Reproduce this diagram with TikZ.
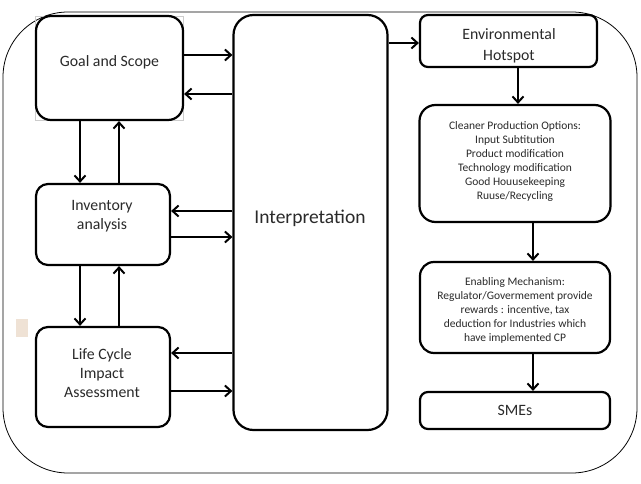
\documentclass[tikz,border=0pt]{standalone}
\usepackage{fontspec}
\setmainfont{Carlito}
\usetikzlibrary{arrows.meta}
\definecolor{txt}{HTML}{2A2A2A}
\definecolor{beige}{HTML}{EFE2D5}
\begin{document}
\begin{tikzpicture}[x=1pt,y=-1pt,
  box/.style={draw=black,line width=2.2pt,rounded corners=12pt,minimum width=#1,inner sep=0pt},
  lbl/.style={align=center,text=txt,inner sep=0pt},
  big/.style={font=\fontsize{15.8}{19}\selectfont},
  small/.style={font=\fontsize{11.5}{14}\selectfont},
  arr/.style={line width=2pt,-{Straight Barb[length=6pt,width=11pt,line width=2pt]}}]
\useasboundingbox (0,0) rectangle (641,484);
\fill[white] (0,0) rectangle (641,484);
% outer frame
\draw[line width=0.8pt,rounded corners=65pt] (3,12) rectangle (637,473);
% beige mark
\fill[beige] (16,319) rectangle (28,337);
% grey picture frame around goal box
\draw[line width=0.4pt,draw=gray!40] (35,16) rectangle (183,120);
% boxes
\node[box=147pt,minimum height=104pt,rounded corners=15pt] (goal) at (109.5,68) {};
\node[box=134pt,minimum height=81pt] (inv) at (103,224.5) {};
\node[box=134pt,minimum height=100pt] (lcia) at (103,377) {};
\node[box=154pt,minimum height=415pt,rounded corners=20pt] (interp) at (310.5,222.5) {};
\node[box=177pt,minimum height=52pt,rounded corners=8pt] (env) at (508.5,41) {};
\node[box=191pt,minimum height=117pt,rounded corners=16pt] (cpo) at (515,163.5) {};
\node[box=190pt,minimum height=91pt,rounded corners=14pt] (em) at (515,307.5) {};
\node[box=190pt,minimum height=37pt,rounded corners=8pt] (smes) at (515,410.5) {};
% texts
\node[lbl,big] (goalt) at (109.5,62) {Goal and Scope};
\node[lbl,big] (invt) at (102,216.5) {Inventory\\analysis};
\node[lbl,big] (lciat) at (102,373.5) {Life Cycle\\Impact\\Assessment};
\node[lbl,font=\fontsize{19.5}{23}\selectfont] (interpt) at (310,218) {Interpretation};
\begin{scope}
\clip (env.north west) rectangle ([yshift=1pt]env.south east);
\node[lbl,font=\fontsize{15.8}{21}\selectfont] (envt) at (509,46) {Environmental\\Hotspot};
\end{scope}
\node[lbl,small] (cpot) at (515,161.5) {Cleaner Production Options:\\Input Subtitution\\Product modification\\Technology modification\\Good Houusekeeping\\Ruuse/Recycling};
\node[lbl,small] (emt) at (515,310) {Enabling Mechanism:\\Regulator/Govermement provide\\rewards : incentive, tax\\deduction for Industries which\\have implemented CP};
\node[lbl,big] (smest) at (515,410) {SMEs};
% horizontal arrows
\draw[arr] (goal.east |- 0,55) -- (interp.west |- 0,55);
\draw[arr] (interp.west |- 0,94) -- (goal.east |- 0,94);
\draw[arr] (interp.west |- 0,211) -- (inv.east |- 0,211);
\draw[arr] (inv.east |- 0,237) -- (interp.west |- 0,237);
\draw[arr] (interp.west |- 0,353) -- (lcia.east |- 0,353);
\draw[arr] (lcia.east |- 0,391) -- (interp.west |- 0,391);
\draw[arr] (interp.east |- 0,43) -- (env.west |- 0,43);
% vertical arrows left
\draw[arr] (goal.south -| 80,0) -- (inv.north -| 80,0);
\draw[arr] (inv.north -| 119,0) -- (goal.south -| 119,0);
\draw[arr] (inv.south -| 80,0) -- (lcia.north -| 80,0);
\draw[arr] (lcia.north -| 119,0) -- (inv.south -| 119,0);
% vertical arrows right
\draw[arr] (env.south -| 518,0) -- (cpo.north -| 518,0);
\draw[arr] (cpo.south -| 533,0) -- (em.north -| 533,0);
\draw[arr] (em.south -| 533,0) -- (smes.north -| 533,0);
\end{tikzpicture}
\end{document}
